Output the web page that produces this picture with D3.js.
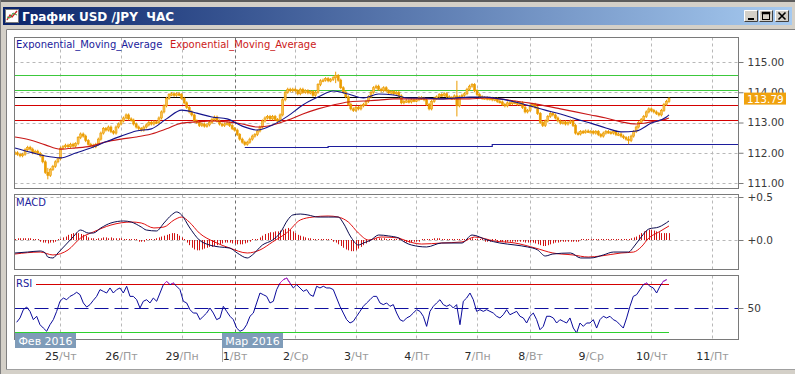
<!DOCTYPE html>
<html>
<head>
<meta charset="utf-8">
<script src="https://cdn.jsdelivr.net/npm/d3@7"></script>
<style>
  body { margin: 0; background: #d4d0c8; }
  svg text { font-family: "DejaVu Sans", Verdana, sans-serif; }
</style>
</head>
<body>
<svg id="chart" width="795" height="374"></svg>
<script>
// ---- data ----
const dayStarts = [18, 42, 66, 87, 111, 135, 159, 183, 204, 228, 252, 276]
const dayNums = ["25", "26", "29", "1", "2", "3", "4", "7", "8", "9", "10", "11"]
const dayNames = ["Чт", "Пт", "Пн", "Вт", "Ср", "Чт", "Пт", "Пн", "Вт", "Ср", "Чт", "Пт"]
const monthStartBar = 87
const monthLabels = ["Фев 2016", "Мар 2016"]
const monthBars = [0, 82]

// hourly closes, 24 Feb 06:00 .. 10 Mar
const closes = [
  112.0, 111.95, 111.9, 111.95, 112.1, 112.18, 112.12, 112.0, 112.05, 111.98, 111.9, 111.7, 111.35, 111.25, 111.45, 111.55, 111.7, 111.8,
  112.15, 112.2, 112.25, 112.2, 112.28, 112.22, 112.3, 112.5, 112.62, 112.55, 112.4, 112.28, 112.25, 112.2, 112.28, 112.45, 112.65, 112.8, 112.75, 112.85, 112.7, 112.65, 112.85, 112.95,
  113.05, 113.15, 113.25, 113.12, 113.08, 112.95, 112.85, 112.8, 112.75, 112.85, 112.92, 113.0, 112.95, 113.02, 113.0, 113.15, 113.35, 113.55, 113.8, 113.92, 113.95, 113.9, 113.95, 113.92,
  113.8, 113.65, 113.5, 113.35, 113.25, 113.05, 113.0, 112.9, 112.95, 112.88, 112.92, 113.0, 113.1, 113.18, 113.05, 112.95, 112.9, 112.95, 112.98, 112.9, 112.8,
  112.75, 112.6, 112.45, 112.35, 112.28, 112.35, 112.45, 112.55, 112.6, 112.72, 112.85, 113.05, 113.15, 113.2, 113.12, 113.2, 113.1, 113.05, 113.25, 113.75, 114.0, 114.1, 114.05, 114.1,
  114.05, 113.95, 114.1, 114.0, 114.05, 113.98, 114.02, 113.9, 114.0, 114.25, 114.38, 114.4, 114.45, 114.38, 114.42, 114.48, 114.55, 114.4, 114.15, 114.0, 113.85, 113.6, 113.45, 113.4,
  113.5, 113.45, 113.55, 113.6, 113.7, 113.85, 114.0, 114.15, 114.2, 114.1, 114.05, 114.15, 114.05, 113.98, 114.02, 113.95, 114.0, 113.88, 113.65, 113.7, 113.72, 113.68, 113.75, 113.72,
  113.75, 113.82, 113.8, 113.75, 113.6, 113.45, 113.7, 113.8, 113.85, 113.92, 113.9, 113.95, 113.85, 113.82, 113.8, 113.88, 113.55, 113.85, 113.9, 113.95, 114.1, 114.2, 114.25, 114.05,
  113.92, 113.85, 113.8, 113.82, 113.78, 113.8, 113.75, 113.78, 113.7, 113.68, 113.6, 113.55, 113.65, 113.62, 113.68, 113.65, 113.6, 113.65, 113.5, 113.35, 113.4,
  113.55, 113.6, 113.5, 113.3, 113.0, 112.9, 113.05, 113.2, 113.3, 113.25, 113.15, 113.05, 112.98, 113.02, 112.95, 113.0, 113.05, 112.9, 112.65, 112.62, 112.7, 112.68, 112.72, 112.7,
  112.7, 112.65, 112.7, 112.6, 112.55, 112.65, 112.7, 112.68, 112.65, 112.7, 112.6, 112.62, 112.55, 112.5, 112.45, 112.4, 112.55, 112.7, 112.85, 113.0, 113.1, 113.2, 113.35, 113.45,
  113.4, 113.35, 113.3, 113.25, 113.4, 113.6, 113.7, 113.79
]
const spikeBars = [13, 127, 175, 243]
const spikeHighs = [111.45, 114.63, 114.33, 112.5]
const spikeLows = [111.17, 114.35, 113.25, 112.33]
const lastPrice = 113.79

// moving averages, one reading every 6 bars
const emaBlue = [112.16, 112.02, 111.89, 111.83, 111.99, 112.16, 112.36, 112.55, 112.72, 112.79, 113.12, 113.41, 113.31, 113.18, 113.12,
  112.88, 112.75, 112.92, 113.21, 113.58, 113.84, 114.04, 113.94, 113.81, 113.94, 113.91, 113.81, 113.81, 113.78, 113.81,
  113.84, 113.84, 113.78, 113.68, 113.55, 113.41, 113.28, 113.12, 112.98, 112.82, 112.69, 112.72, 112.98, 113.18, 113.25]
const emaRed = [112.52, 112.42, 112.26, 112.12, 112.16, 112.22, 112.36, 112.45, 112.52, 112.62, 112.79, 112.98, 113.02, 113.05, 113.02,
  112.95, 112.85, 112.92, 113.08, 113.28, 113.45, 113.58, 113.68, 113.71, 113.74, 113.78, 113.78, 113.78, 113.78, 113.78,
  113.78, 113.81, 113.78, 113.71, 113.64, 113.55, 113.45, 113.35, 113.25, 113.15, 113.02, 112.95, 113.02, 113.12, 113.15]

const levelVals = [114.57, 114.07, 113.83, 113.58, 113.08]
const levelColors = ["#3cc83c", "#3cc83c", "#000000", "#d40000", "#d40000"]
const supportBars = [91, 124, 189, 254, 287]
const supportVals = [112.20, 112.23, 112.28, 112.30]
const priceTicks = [111, 112, 113, 114, 115]

// MACD
const macdBars = [0, 5, 10, 12, 13, 15, 17, 20, 23, 26, 29, 31, 34, 38, 43, 46, 50, 52, 56, 59, 62, 64, 66, 69, 73, 77, 81, 85, 88, 92,
  94, 98, 102, 105, 108, 110, 113, 116, 120, 124, 128, 130, 133, 136, 138, 141, 144, 148, 152, 153, 157, 163, 169, 177, 181, 187, 192, 198, 203, 207,
  210, 213, 220, 224, 228, 233, 237, 243, 245, 248, 251, 255, 259]
const macdVals = [-0.151, -0.140, -0.128, -0.151, -0.198, -0.209, -0.151, -0.058, 0.035, 0.116, 0.081, 0.081, 0.140, 0.198, 0.221, 0.209, 0.151, 0.116, 0.105, 0.198,
  0.291, 0.326, 0.291, 0.151, 0, -0.058, -0.081, -0.093, -0.151, -0.209, -0.174, -0.058, 0, 0.081, 0.233, 0.291, 0.302, 0.291, 0.267, 0.267,
  0.267, 0.198, 0.035, -0.058, -0.035, 0, 0.058, 0.047, 0.023, 0, -0.058, -0.081, -0.035, -0.035, 0.058, 0, -0.035, -0.058, -0.081, -0.116,
  -0.186, -0.163, -0.151, -0.209, -0.209, -0.174, -0.140, -0.140, -0.081, 0.035, 0.128, 0.151, 0.221]
const signalBars = [0, 10, 15, 21, 26, 31, 38, 46, 50, 55, 59, 63, 66, 69, 73, 79, 85, 92, 97, 102, 108, 113, 118, 124, 128, 132, 136, 140, 145, 152,
  153, 161, 169, 177, 182, 190, 198, 206, 213, 221, 227, 232, 240, 245, 248, 251, 255, 259]
const signalVals = [-0.163, -0.140, -0.174, -0.116, 0.023, 0.093, 0.174, 0.209, 0.198, 0.140, 0.151, 0.233, 0.267, 0.209, 0.081, -0.023, -0.093, -0.151, -0.116, -0.023,
  0.093, 0.233, 0.267, 0.279, 0.267, 0.209, 0.081, 0, 0.035, 0.023, 0.012, -0.047, -0.035, -0.023, 0.035, -0.012, -0.035, -0.093, -0.151, -0.174,
  -0.198, -0.186, -0.151, -0.140, -0.081, 0.023, 0.093, 0.163]
const histVals = [
  0.01, 0.02, 0.02, 0.02, 0.02, 0.02, 0.02, 0.01, 0.0, -0.01, -0.02, -0.03, -0.03, -0.04, -0.03, -0.03, -0.02, 0.0,
  0.01, 0.03, 0.04, 0.06, 0.07, 0.08, 0.085, 0.08, 0.07, 0.06, 0.05, 0.03, 0.02, 0.02, 0.01, 0.02,
  0.02, 0.03, 0.03, 0.02, 0.03, 0.02, 0.02, 0.02, 0.02, 0.01, 0.01, 0.0, 0.0,
  -0.01, -0.01, -0.02, -0.02, -0.02, -0.01, -0.01,
  0.0, 0.01, 0.02, 0.03, 0.04, 0.05, 0.06, 0.07, 0.08, 0.08, 0.07, 0.05, 0.03,
  0.0, -0.03, -0.06, -0.09, -0.11, -0.12, -0.12, -0.11, -0.10, -0.09, -0.08, -0.08, -0.07, -0.06, -0.05, -0.04, -0.03, -0.03, -0.03, -0.04,
  -0.04, -0.05, -0.05, -0.05, -0.04, -0.03, -0.02, -0.01, 0.0,
  0.01, 0.03, 0.05, 0.07, 0.08, 0.09, 0.09, 0.1, 0.1, 0.11, 0.12, 0.13, 0.14, 0.12, 0.1, 0.08, 0.06,
  0.05, 0.04, 0.03, 0.02, 0.02, 0.01, 0.01, 0.0, 0.0, -0.01, 0.0, -0.01, -0.01,
  -0.02, -0.03, -0.05, -0.07, -0.09, -0.11, -0.12, -0.13, -0.13, -0.12, -0.10, -0.08, -0.06, -0.04, -0.02,
  0.0, 0.01, 0.02, 0.02, 0.02, 0.02, 0.01, 0.01, 0.01, 0.0, 0.0, -0.01, -0.01, -0.02, -0.03, -0.03, -0.03, -0.02,
  -0.02, -0.02, -0.01, -0.01, -0.01, 0.0, 0.01, 0.02, 0.02, 0.02, 0.01, 0.01, 0.0, 0.0, -0.01, -0.01, -0.01, 0.0, 0.01, 0.01, 0.02, 0.02, 0.02, 0.01,
  0.0, -0.01, -0.01, -0.02, -0.02, -0.02, -0.01, -0.01, -0.02, -0.02, -0.02, -0.03, -0.02, -0.02, -0.02, -0.02, -0.02, -0.02, -0.02, -0.03, -0.03,
  -0.03, -0.03, -0.04, -0.05, -0.06, -0.07, -0.07, -0.06, -0.05, -0.04, -0.03, -0.03, -0.02, -0.02, -0.02, -0.02, -0.02, -0.02, -0.02, -0.02, -0.01, -0.01, -0.01, -0.01,
  0.0, 0.0, 0.0, 0.0, 0.0, 0.0, 0.0, 0.0, 0.01, 0.01, 0.01, 0.01, 0.01, 0.01, 0.01, 0.01, 0.02, 0.03, 0.04, 0.06, 0.08, 0.1, 0.11, 0.12,
  0.12, 0.11, 0.1, 0.09, 0.08, 0.08, 0.08, 0.08
]
const macdTicks = [0, 0.5]

// RSI, one reading every 1.32 bars starting at bar 0.66
const rsiStart = 0.66
const rsiStep = 1.32
const rsiVals = [
  38.1, 41.7, 48.6, 50.8, 47.2, 40.3, 43.1, 36.1, 33.3, 30.6, 36.1, 40.3, 47.2, 55.6, 58.3, 56.9, 59.7, 61.1, 63.1, 61.1,
  54.2, 50.8, 52.8, 56.4, 59.7, 65.3, 63.9, 62.5, 66.7, 62.5, 65.3, 66.7, 62.5, 68.1, 59.7, 59.7, 56.9, 50, 55.6, 56.9,
  54.2, 58.3, 55.6, 62.5, 69.4, 72.2, 69.4, 70.8, 68.1, 65.3, 55.6, 54.2, 48.6, 45.8, 45.8, 40.3, 43.1, 45.8, 50, 45.8,
  40.3, 41.7, 51.4, 47.2, 43.1, 40.3, 33.3, 30.6, 31.9, 36.1, 43.1, 45.8, 54.2, 62.5, 61.1, 59.7, 54.2, 55.6, 65.3, 70.8,
  73.6, 75.0, 70.8, 66.7, 69.4, 66.7, 63.9, 65.3, 61.1, 59.7, 68.1, 66.7, 68.1, 66.7, 66.7, 65.3, 58.3, 51.4, 45.8, 40.3,
  37.5, 38.9, 43.1, 47.2, 51.4, 54.2, 56.9, 59.7, 59.7, 54.2, 52.8, 54.2, 51.4, 52.8, 45.8, 40.3,
  38.9, 41.7, 43.1, 45.8, 48.6, 47.2, 43.1, 34.7, 47.2, 51.4, 54.2, 56.9, 52.8, 51.4, 52.8, 50, 52.8, 36.1, 55.6, 58.3,
  62.5, 56.9, 47.2, 48.6, 47.2, 48.6, 47.2, 45.8, 43.1, 41.7, 44.4, 48.6, 44.4, 45.8, 47.2, 43.1, 41.7, 37.5, 43.1, 45.8,
  40.3, 31.9, 34.7, 43.1, 43.1, 41.7, 37.5, 40.3, 38.9, 37.5, 41.7, 33.3, 29.2, 37.5, 34.7, 37.5, 37.5, 40.3, 33.3, 40.3,
  43.1, 41.7, 43.1, 40.3, 38.9, 36.1, 33.3, 41.7, 51.4, 59.7, 61.1, 65.3, 69.4, 70.8, 68.1, 66.7, 62.5, 68.1, 72.2, 73.6
]
const rsiLevels = [70, 30]
const rsiTicks = [50]

// ---- layout ----
const panelLeft = 14.5
const panelRight = 738.5
const pricePanel = {top: 37.5, bottom: 188.5}
const macdPanel = {top: 194.5, bottom: 269.5}
const rsiPanel = {top: 275.5, bottom: 339.5}
const lastBar = closes.length - 1

let svg = d3.select("#chart")

// Scales
let x = d3.scaleLinear().domain([0, 287]).range([15, 739.7])
let yPrice = d3.scaleLinear().domain([111, 115]).range([183, 62])
let yMacd = d3.scaleLinear().domain([0, 0.5]).range([240, 197])
let yRsi = d3.scaleLinear().domain([30, 70]).range([332, 284])

let defs = svg.append("defs")
let grad = defs.append("linearGradient").attr("id", "titleGrad")
grad.append("stop").attr("offset", "0%").attr("stop-color", "#0a246a")
grad.append("stop").attr("offset", "100%").attr("stop-color", "#a6caf0")

;[["clipPrice", pricePanel], ["clipMacd", macdPanel], ["clipRsi", rsiPanel]].forEach(([id, p]) => {
    defs.append("clipPath").attr("id", id)
        .append("rect")
        .attr("x", panelLeft).attr("y", p.top)
        .attr("width", panelRight - panelLeft).attr("height", p.bottom - p.top)
})
defs.append("clipPath").attr("id", "clipRsiHigh")
    .append("rect").attr("x", panelLeft).attr("y", rsiPanel.top)
    .attr("width", panelRight - panelLeft).attr("height", yRsi(70) - rsiPanel.top)
defs.append("clipPath").attr("id", "clipRsiLow")
    .append("rect").attr("x", panelLeft).attr("y", yRsi(30))
    .attr("width", panelRight - panelLeft).attr("height", rsiPanel.bottom - yRsi(30))

// ---- window frame ----
svg.append("rect").attr("width", 795).attr("height", 374).attr("fill", "#d4d0c8")
svg.append("rect").attr("width", 795).attr("height", 2).attr("fill", "#5c5c5c")
svg.append("rect").attr("x", 0).attr("y", 0).attr("width", 1).attr("height", 374).attr("fill", "#808080")
svg.append("rect").attr("x", 3).attr("y", 7).attr("width", 789).attr("height", 18).attr("fill", "url(#titleGrad)")

// icon
svg.append("rect").attr("x", 5.5).attr("y", 9.5).attr("width", 13).attr("height", 13)
    .attr("fill", "#fff").attr("stroke", "#7a7a7a")
svg.append("polyline").attr("points", "7,20 10,15 12,17 17,11").attr("fill", "none")
    .attr("stroke", "#d02020").attr("stroke-width", 1.3)
svg.append("polyline").attr("points", "7,17 10,18 13,13 17,15").attr("fill", "none")
    .attr("stroke", "#3a9a3a").attr("stroke-width", 1)

svg.append("text")
    .attr("x", 22).attr("y", 21)
    .attr("fill", "#fff")
    .attr("font-size", "12px")
    .attr("font-weight", "bold")
    .style("white-space", "pre")
    .text("График USD /JPY  ЧАС")

// title buttons
const buttonX = [744, 759, 775]
buttonX.forEach((bx, i) => {
    let g = svg.append("g").attr("transform", `translate(${bx}, 10)`)
    g.append("rect").attr("width", 14).attr("height", 12).attr("fill", "#d4d0c8")
    g.append("path").attr("d", "M0.5,11.5 V0.5 H13.5").attr("fill", "none").attr("stroke", "#fff")
    g.append("path").attr("d", "M0.5,11.5 H13.5 V0.5").attr("fill", "none").attr("stroke", "#404040")
    if (i === 0) g.append("rect").attr("x", 4).attr("y", 8).attr("width", 6).attr("height", 2).attr("fill", "#000")
    if (i === 1) g.append("rect").attr("x", 3.5).attr("y", 2.5).attr("width", 7).attr("height", 7)
        .attr("fill", "none").attr("stroke", "#000").attr("stroke-width", 1)
        .clone().attr("height", 1).attr("stroke-width", 1.5)
    if (i === 2) g.append("path").attr("d", "M3.5,2.5 L10.5,9.5 M10.5,2.5 L3.5,9.5")
        .attr("stroke", "#000").attr("stroke-width", 1.6)
})

// chart surface
svg.append("rect").attr("x", 6).attr("y", 29).attr("width", 789).attr("height", 340).attr("fill", "#fff")
svg.append("path").attr("d", "M6.5,369 V29.5 H795").attr("fill", "none").attr("stroke", "#808080")
svg.append("line").attr("x1", 6).attr("x2", 795).attr("y1", 369.5).attr("y2", 369.5).attr("stroke", "#a0a0a0")

// ---- grids ----
function verticalGrid(p) {
    dayStarts.forEach(b => {
        let xp = Math.round(x(b)) + 0.5
        svg.append("line")
            .attr("x1", xp).attr("x2", xp)
            .attr("y1", p.top).attr("y2", p.bottom)
            .attr("stroke", b === monthStartBar ? "#6e6e6e" : "#b8b8b8")
            .attr("stroke-dasharray", "3,3")
    })
}
function horizontalGrid(p, scale, ticks) {
    ticks.forEach(t => {
        let yp = Math.round(scale(t)) + 0.5
        svg.append("line")
            .attr("x1", panelLeft).attr("x2", panelRight)
            .attr("y1", yp).attr("y2", yp)
            .attr("stroke", "#b8b8b8")
            .attr("stroke-dasharray", "3,3")
    })
}
;[pricePanel, macdPanel, rsiPanel].forEach(p => verticalGrid(p))
horizontalGrid(pricePanel, yPrice, priceTicks)
horizontalGrid(macdPanel, yMacd, macdTicks)

// ---- price panel ----
let pricePlot = svg.append("g").attr("clip-path", "url(#clipPrice)")

levelVals.forEach((v, i) => {
    let yp = Math.round(yPrice(v)) + 0.5
    pricePlot.append("line")
        .attr("x1", panelLeft).attr("x2", panelRight)
        .attr("y1", yp).attr("y2", yp)
        .attr("stroke", levelColors[i])
        .attr("stroke-width", 1.2)
})

// support line in steps
let supportPts = []
supportVals.forEach((v, i) => {
    supportPts.push([supportBars[i], v], [supportBars[i + 1], v])
})
pricePlot.append("path")
    .attr("d", d3.line().x(d => x(d[0])).y(d => Math.round(yPrice(d[1])) + 0.5)(supportPts))
    .attr("fill", "none")
    .attr("stroke", "#1c1c9c")
    .attr("stroke-width", 1.2)

// candles
let candles = closes.map((c, i) => {
    let o = i === 0 ? c : closes[i - 1]
    let k = spikeBars.indexOf(i)
    return {
        i: i, open: o, close: c,
        high: k >= 0 ? spikeHighs[k] : Math.max(o, c),
        low: k >= 0 ? spikeLows[k] : Math.min(o, c)
    }
})
pricePlot.append("g")
    .selectAll("line")
    .data(candles)
    .enter()
    .append("line")
    .attr("x1", d => x(d.i)).attr("x2", d => x(d.i))
    .attr("y1", d => yPrice(d.high) - 1.5)
    .attr("y2", d => yPrice(d.low) + 1.5)
    .attr("stroke", "#eb9c00")
    .attr("stroke-width", 1)
pricePlot.append("g")
    .selectAll("rect")
    .data(candles)
    .enter()
    .append("rect")
    .attr("x", d => x(d.i) - 1)
    .attr("y", d => yPrice(Math.max(d.open, d.close)))
    .attr("width", 2)
    .attr("height", d => Math.max(1.5, Math.abs(yPrice(d.open) - yPrice(d.close))))
    .attr("fill", d => d.close >= d.open ? "#f8c050" : "#eb9c00")
    .attr("stroke", "#eb9c00")
    .attr("stroke-width", 0.6)

// moving averages
let emaBars = emaBlue.map((v, i) => Math.min(i * 6, lastBar))
let emaLine = d3.line().x((d, i) => x(emaBars[i])).y(d => yPrice(d)).curve(d3.curveMonotoneX)
pricePlot.append("path").attr("d", emaLine(emaRed))
    .attr("fill", "none").attr("stroke", "#c81818").attr("stroke-width", 1.1)
pricePlot.append("path").attr("d", emaLine(emaBlue))
    .attr("fill", "none").attr("stroke", "#14148c").attr("stroke-width", 1.1)

svg.append("text").attr("x", 16).attr("y", 48)
    .attr("font-size", "10px").attr("fill", "#1c1c9c")
    .text("Exponential_Moving_Average")
svg.append("text").attr("x", 170).attr("y", 48)
    .attr("font-size", "10px").attr("fill", "#cc1a1a")
    .text("Exponential_Moving_Average")

// ---- MACD panel ----
let macdPlot = svg.append("g").attr("clip-path", "url(#clipMacd)")
macdPlot.append("g")
    .selectAll("line")
    .data(histVals)
    .enter()
    .append("line")
    .attr("x1", (d, i) => Math.round(x(i)) + 0.5)
    .attr("x2", (d, i) => Math.round(x(i)) + 0.5)
    .attr("y1", yMacd(0))
    .attr("y2", d => {
        let yp = yMacd(d)
        return Math.abs(yp - yMacd(0)) < 1 ? yMacd(0) - 1 : yp
    })
    .attr("stroke", "#d01414")
    .attr("stroke-width", 1)

let macdLine = d3.line().y(d => yMacd(d)).curve(d3.curveMonotoneX)
macdPlot.append("path")
    .attr("d", macdLine.x((d, i) => x(signalBars[i]))(signalVals))
    .attr("fill", "none").attr("stroke", "#e01010").attr("stroke-width", 1)
macdPlot.append("path")
    .attr("d", macdLine.x((d, i) => x(macdBars[i]))(macdVals))
    .attr("fill", "none").attr("stroke", "#0c0c50").attr("stroke-width", 1)

svg.append("text").attr("x", 16).attr("y", 206)
    .attr("font-size", "10px").attr("fill", "#1c1c9c")
    .text("MACD")

// ---- RSI panel ----
let rsiPlot = svg.append("g").attr("clip-path", "url(#clipRsi)")
let y50 = Math.round(yRsi(50)) + 0.5
rsiPlot.append("line")
    .attr("x1", panelLeft).attr("x2", panelRight)
    .attr("y1", y50).attr("y2", y50)
    .attr("stroke", "#1010a0").attr("stroke-width", 1.2)
    .attr("stroke-dasharray", "14,6")
rsiLevels.forEach(l => {
    let yp = Math.round(yRsi(l)) + 0.5
    rsiPlot.append("line")
        .attr("x1", panelLeft).attr("x2", x(lastBar))
        .attr("y1", yp).attr("y2", yp)
        .attr("stroke", l > 50 ? "#d40000" : "#2ed02e")
        .attr("stroke-width", 1.2)
})
let rsiLine = d3.line().x((d, i) => x(rsiStart + i * rsiStep)).y(d => yRsi(d))
rsiPlot.append("path").attr("d", rsiLine(rsiVals))
    .attr("fill", "none").attr("stroke", "#0a0a9a").attr("stroke-width", 1)
rsiPlot.append("path").attr("d", rsiLine(rsiVals))
    .attr("clip-path", "url(#clipRsiHigh)")
    .attr("fill", "none").attr("stroke", "#d030c8").attr("stroke-width", 1)
rsiPlot.append("path").attr("d", rsiLine(rsiVals))
    .attr("clip-path", "url(#clipRsiLow)")
    .attr("fill", "none").attr("stroke", "#2ea02e").attr("stroke-width", 1)

svg.append("rect").attr("x", 15).attr("y", 277).attr("width", 21).attr("height", 12).attr("fill", "#fff")
svg.append("text").attr("x", 16).attr("y", 287)
    .attr("font-size", "10px").attr("fill", "#1c1c9c")
    .text("RSI")

// ---- panel borders ----
;[pricePanel, macdPanel, rsiPanel].forEach(p => {
    svg.append("rect")
        .attr("x", panelLeft).attr("y", p.top)
        .attr("width", panelRight - panelLeft).attr("height", p.bottom - p.top)
        .attr("fill", "none").attr("stroke", "#7a7a7a")
})

// ---- right axes ----
function rightAxis(scale, ticks, fmt) {
    let g = svg.append("g")
        .attr("class", "axis")
        .attr("transform", `translate(${panelRight}, 0)`)
        .call(d3.axisRight(scale).tickValues(ticks).tickSize(5).tickPadding(4).tickFormat(fmt))
    g.select(".domain").remove()
    g.selectAll("line").attr("stroke", "#7a7a7a")
    g.selectAll("text").attr("fill", "#3a3a3a").attr("font-size", "10.5px")
        .attr("font-family", "'DejaVu Sans', Verdana, sans-serif")
    return g
}
rightAxis(yPrice, priceTicks, d3.format(".2f"))
rightAxis(yMacd, macdTicks, d => "+" + d.toFixed(1))
rightAxis(yRsi, rsiTicks, d => d)

// last price tag
svg.append("rect")
    .attr("x", 744).attr("y", yPrice(lastPrice) - 6)
    .attr("width", 42).attr("height", 12)
    .attr("fill", "#f0a20e")
svg.append("text")
    .attr("x", 747).attr("y", yPrice(lastPrice) + 4)
    .attr("fill", "#fff").attr("font-size", "10.5px")
    .text(d3.format(".2f")(lastPrice))

// ---- date axis ----
let dateAxis = svg.append("g")
    .attr("transform", "translate(0, 348)")
    .call(d3.axisBottom(x).tickValues(dayStarts).tickSize(0).tickPadding(4))
dateAxis.select(".domain").remove()
dateAxis.selectAll("text")
    .attr("font-size", "11px")
    .attr("font-family", "'DejaVu Sans', Verdana, sans-serif")
    .text(null)
    .each(function(d) {
        let i = dayStarts.indexOf(d)
        let t = d3.select(this)
        t.append("tspan").attr("fill", "#2a2a2a").text(dayNums[i])
        t.append("tspan").attr("fill", "#9a9a9a").text("/" + dayNames[i])
    })

// month tags
monthLabels.forEach((m, i) => {
    let mx = Math.round(x(monthBars[i]))
    if (monthBars[i] > 0) {
        svg.append("line")
            .attr("x1", mx + 0.5).attr("x2", mx + 0.5)
            .attr("y1", 348).attr("y2", 362)
            .attr("stroke", "#a8a8a8")
    }
    svg.append("rect")
        .attr("x", mx).attr("y", 333)
        .attr("width", 61).attr("height", 15)
        .attr("fill", "#7f9cb9")
    svg.append("text")
        .attr("x", mx + 30.5).attr("y", 344.5)
        .attr("text-anchor", "middle")
        .attr("fill", "#fff").attr("font-size", "11px")
        .text(m)
})
</script>
</body>
</html>
